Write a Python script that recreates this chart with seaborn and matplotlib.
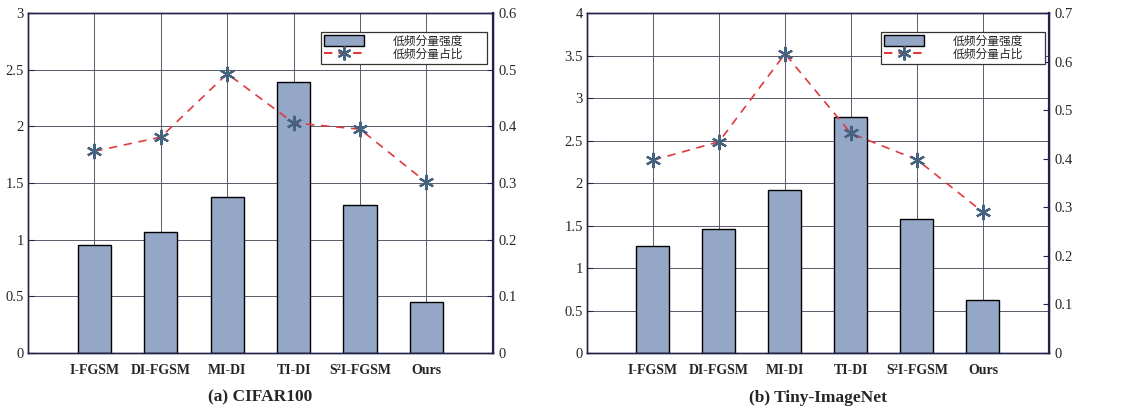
import seaborn as sns
import matplotlib.pyplot as plt
import pandas as pd
from matplotlib.patches import Patch
from matplotlib.lines import Line2D

methods = ["I-FGSM", "DI-FGSM", "MI-DI", "TI-DI", "S²I-FGSM", "Ours"]

# (a) CIFAR100
cifar_strength = [0.95, 1.065, 1.38, 2.39, 1.305, 0.45]
cifar_ratio = [0.356, 0.381, 0.493, 0.406, 0.395, 0.301]

# (b) Tiny-ImageNet
tiny_strength = [1.255, 1.46, 1.915, 2.78, 1.58, 0.62]
tiny_ratio = [0.397, 0.435, 0.616, 0.452, 0.398, 0.29]

label_strength = "低频分量强度"
label_ratio = "低频分量占比"

BAR_COLOR = "#95a7c6"
LINE_COLOR = "#e0393e"
STAR_COLOR = "#46627e"
SPINE_COLOR = "#22224a"
ASTERISK = (6, 2, 0)

sns.set_style("white")
plt.rcParams["font.family"] = ["Liberation Serif", "Noto Sans CJK SC"]
plt.rcParams["xtick.direction"] = "in"
plt.rcParams["ytick.direction"] = "in"


def draw_panel(ax, strength, ratio, ymax, rmax, title, leg_box):
    df = pd.DataFrame({"method": methods, "strength": strength})
    sns.barplot(data=df, x="method", y="strength", ax=ax, color=BAR_COLOR,
                width=0.5, edgecolor="black", linewidth=1.0, saturation=1)
    ax.set_xlim(-1, len(methods))
    ax.set_ylim(0, ymax)
    ax.set_yticks([i * 0.5 for i in range(int(ymax * 2) + 1)])
    ax.set_yticklabels([f"{v:g}" for v in ax.get_yticks()], fontsize=10.5)
    ax.set_xticks(range(len(methods)))
    ax.set_xticklabels(methods, fontsize=10, fontweight="bold")
    ax.set_xlabel(title, fontsize=12.5, fontweight="bold", labelpad=9)
    ax.set_ylabel("")
    ax.grid(True, color="#5a5a6a", linewidth=0.7)
    ax.set_axisbelow(True)
    ax.tick_params(axis="x", length=0, pad=8)
    ax.tick_params(axis="y", length=4, color=SPINE_COLOR, pad=3)
    for s in ax.spines.values():
        s.set_color(SPINE_COLOR)
        s.set_linewidth(1.0)

    ax2 = ax.twinx()
    ax2.plot(range(len(methods)), ratio, linestyle="--", color=LINE_COLOR,
             linewidth=1.2, dashes=(5, 4))
    ax2.plot(range(len(methods)), ratio, linestyle="none", marker=ASTERISK,
             markersize=11, color=STAR_COLOR, markeredgewidth=1.6)
    ax2.set_ylim(0, rmax)
    ticks = [i / 10 for i in range(int(round(rmax * 10)) + 1)]
    ax2.set_yticks(ticks)
    ax2.set_yticklabels([f"{v:g}" for v in ticks], fontsize=10.5)
    ax2.tick_params(axis="y", length=4, color=SPINE_COLOR, pad=4)
    for s in ax2.spines.values():
        s.set_color(SPINE_COLOR)
        s.set_linewidth(1.0)
    ax2.spines["right"].set_linewidth(1.6)

    handles = [
        Patch(facecolor=BAR_COLOR, edgecolor="black", linewidth=1.0),
        Line2D([], [], linestyle="--", dashes=(4, 3), color=LINE_COLOR,
               marker=ASTERISK, markersize=10, markeredgewidth=1.6,
               markerfacecolor=STAR_COLOR, markeredgecolor=STAR_COLOR),
    ]
    leg = ax2.legend(handles, [label_strength, label_ratio], loc="upper left",
                     bbox_to_anchor=leg_box, mode="expand", borderaxespad=0,
                     fancybox=False, edgecolor="#333333", framealpha=1,
                     handlelength=3.4, handleheight=1.1, handletextpad=2.4,
                     borderpad=0.25, labelspacing=0.05,
                     prop={"family": ["Noto Sans CJK SC"], "size": 8.5})
    leg.get_frame().set_linewidth(0.9)
    return ax2


fig = plt.figure(figsize=(11.23, 4.08), dpi=100)
ax_a = fig.add_axes([0.0249, 0.1348, 0.414, 0.8333])
ax_b = fig.add_axes([0.5227, 0.1348, 0.4114, 0.8333])

draw_panel(ax_a, cifar_strength, cifar_ratio, 3, 0.6, "(a) CIFAR100",
           (0.630, 0.0, 0.357, 0.945))
draw_panel(ax_b, tiny_strength, tiny_ratio, 4, 0.7, "(b) Tiny-ImageNet",
           (0.637, 0.0, 0.355, 0.945))

fig.savefig("out.png", dpi=100)
